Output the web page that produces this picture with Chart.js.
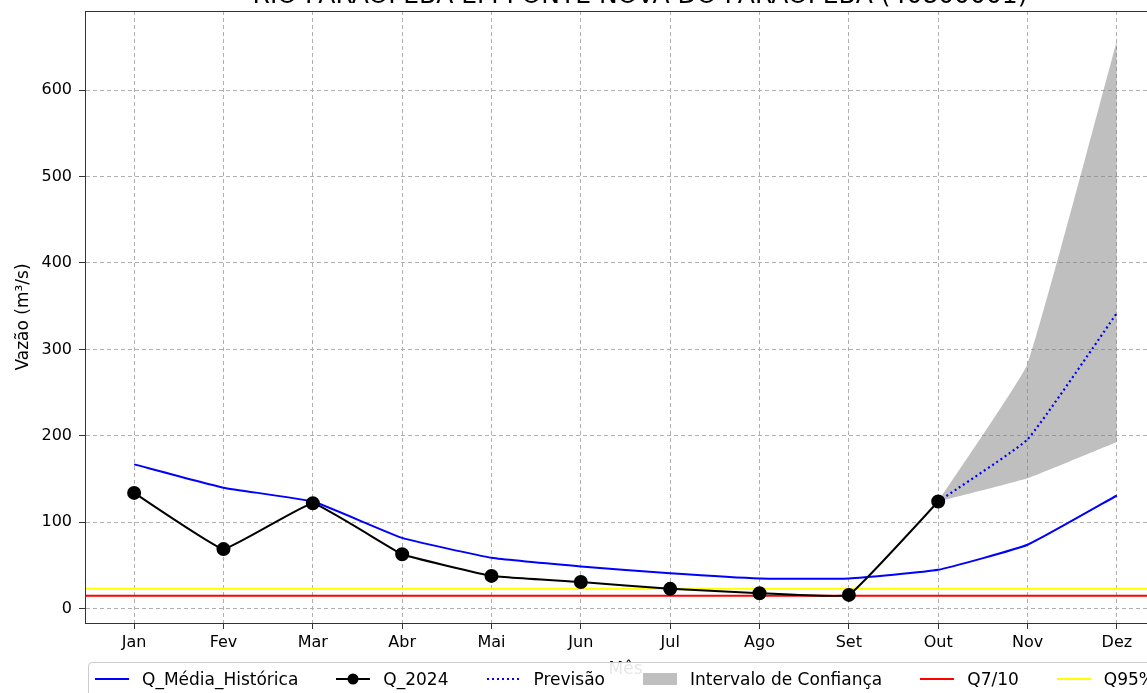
<!DOCTYPE html>
<html>
<head>
<meta charset="utf-8">
<script src="https://cdn.jsdelivr.net/npm/chart.js@4.4.0/dist/chart.umd.min.js"></script>
<style>
  html, body { margin: 0; padding: 0; background: #fff; }
  body { width: 1147px; height: 693px; overflow: hidden; position: relative; }
  #chart { position: absolute; left: 0; top: 0; }
  #title {
    position: absolute; left: 0; width: 1280px; top: -20px; text-align: center;
    font: 25px "DejaVu Sans", sans-serif; line-height: 30px; color: #000; white-space: nowrap;
  }
  #legend {
    position: absolute; left: 88px; top: 662px; height: 44px;
    border: 1px solid #cccccc; border-radius: 4px; background: rgba(255,255,255,0.9);
    display: flex; align-items: flex-start; padding: 6px 8px 0 6px;
    font: 17px "DejaVu Sans", sans-serif; line-height: 20px; white-space: nowrap; color: #000;
  }
  .item { display: flex; align-items: center; margin-right: 38px; }
  .item svg { margin-right: 13px; }
</style>
</head>
<body>
<canvas id="chart" width="1200" height="693"></canvas>
<div id="title"></div>
<div id="legend"></div>
<script>
const titulo = 'RIO PARAOPEBA EM PONTE NOVA DO PARAOPEBA (40800001)';
const months = ['Jan', 'Fev', 'Mar', 'Abr', 'Mai', 'Jun', 'Jul', 'Ago', 'Set', 'Out', 'Nov', 'Dez'];
const qMedia = [167, 140, 124, 82, 59, 49, 41, 35, 35, 45, 74, 131];
const q2024 = [134, 69, 122, 63, 38, 31, 23, 18, 16, 124, null, null];
const previsao = [null, null, null, null, null, null, null, null, null, 124, 196, 342];
const icSup = [null, null, null, null, null, null, null, null, null, 124, 283, 657];
const icInf = [null, null, null, null, null, null, null, null, null, 124, 151, 193];
const q710 = 15;
const q95 = 23;
const yTicks = [0, 100, 200, 300, 400, 500, 600];

// axis limits (matplotlib-like 5% margins)
const xMin = -0.55, xMax = 11.55;
const yMin = -16.5, yMax = 691.5;

const pts = arr => arr.map((v, i) => ({ x: i, y: v })).filter(p => p.y !== null);
const hline = v => [{ x: xMin, y: v }, { x: xMax, y: v }];

const font = size => ({ family: 'DejaVu Sans', size: size });

const frame = {
  id: 'frame',
  afterDraw(chart) {
    const { ctx, chartArea: a } = chart;
    ctx.save();
    ctx.strokeStyle = '#333';
    ctx.lineWidth = 1;
    ctx.strokeRect(Math.round(a.left) + 0.5, Math.round(a.top) + 0.5,
      Math.round(a.right - a.left), Math.round(a.bottom - a.top));
    ctx.restore();
  }
};

const grid = { color: '#b0b0b0', tickColor: '#333', tickLength: 6, tickBorderDash: [] };
const border = { dash: [4, 3], color: '#333' };

const chart = new Chart(document.getElementById('chart'), {
  type: 'line',
  data: {
    datasets: [
      { label: 'Q_Média_Histórica', data: pts(qMedia), borderColor: '#0000ff', borderWidth: 2,
        pointRadius: 0, tension: 0.12, order: 3, legend: 'line' },
      { label: 'Q_2024', data: pts(q2024), borderColor: '#000', backgroundColor: '#000', borderWidth: 2,
        pointRadius: 6, pointBackgroundColor: '#000', pointBorderColor: '#000', tension: 0.08, order: 1, legend: 'marker' },
      { label: 'Previsão', data: pts(previsao), borderColor: '#0000ff', borderWidth: 2.2, borderDash: [2, 3],
        pointRadius: 0, tension: 0.12, order: 2, legend: 'dotted' },
      { label: 'Intervalo de Confiança', data: pts(icSup), borderWidth: 0, borderColor: 'rgba(0,0,0,0)',
        backgroundColor: 'rgba(128,128,128,0.5)', fill: '+1', pointRadius: 0, tension: 0.1, order: 10, legend: 'patch' },
      { label: '', data: pts(icInf), borderWidth: 0, borderColor: 'rgba(0,0,0,0)',
        fill: false, pointRadius: 0, tension: 0.1, order: 11 },
      { label: 'Q7/10', data: hline(q710), borderColor: '#ff0000', borderWidth: 2, pointRadius: 0, order: 5, legend: 'line' },
      { label: 'Q95%', data: hline(q95), borderColor: '#ffff00', borderWidth: 2, pointRadius: 0, order: 6, legend: 'line' }
    ]
  },
  options: {
    responsive: false,
    animation: false,
    layout: { padding: { left: 0, right: 34, top: 11, bottom: 0 } },
    plugins: {
      legend: { display: false },
      tooltip: { enabled: false },
      title: { display: false }
    },
    scales: {
      x: {
        type: 'linear', min: xMin, max: xMax,
        afterBuildTicks: s => { s.ticks = months.map((m, i) => ({ value: i })); },
        afterFit: s => { s.height = 70; s.paddingLeft = 0; s.paddingRight = 0; },
        ticks: { callback: v => months[v], font: font(16), color: '#000', padding: 4, autoSkip: false, maxRotation: 0 },
        grid: grid, border: border,
        title: { display: true, text: 'Mês', font: font(17), color: '#000', padding: { top: 4, bottom: 13 } }
      },
      y: {
        min: yMin, max: yMax,
        afterBuildTicks: s => { s.ticks = yTicks.map(v => ({ value: v })); },
        afterFit: s => { s.width = 85; s.paddingTop = 0; s.paddingBottom = 0; },
        ticks: { font: font(16), color: '#000', padding: 7 },
        grid: grid, border: border,
        title: { display: true, text: 'Vazão (m³/s)', font: font(17), color: '#000', padding: { top: 13, bottom: 0 } }
      }
    }
  },
  plugins: [frame]
});

document.getElementById('title').textContent = titulo;

// legend like the matplotlib one, built from the datasets
const sample = (kind, ds) => {
  const c = ds.borderColor;
  if (kind === 'patch') return '<rect x="0" y="4" width="34" height="12" fill="' + ds.backgroundColor + '"/>';
  if (kind === 'dotted') return '<line x1="0" y1="10" x2="34" y2="10" stroke="' + c + '" stroke-width="2" stroke-dasharray="2 3"/>';
  let s = '<line x1="0" y1="10" x2="34" y2="10" stroke="' + c + '" stroke-width="2"/>';
  if (kind === 'marker') s += '<circle cx="17" cy="10" r="5.5" fill="' + c + '"/>';
  return s;
};
const legendEl = document.getElementById('legend');
chart.data.datasets.filter(ds => ds.legend).forEach(ds => {
  const item = document.createElement('div');
  item.className = 'item';
  item.innerHTML = '<svg width="34" height="20">' + sample(ds.legend, ds) + '</svg><span>' + ds.label + '</span>';
  legendEl.appendChild(item);
});
</script>
</body>
</html>
